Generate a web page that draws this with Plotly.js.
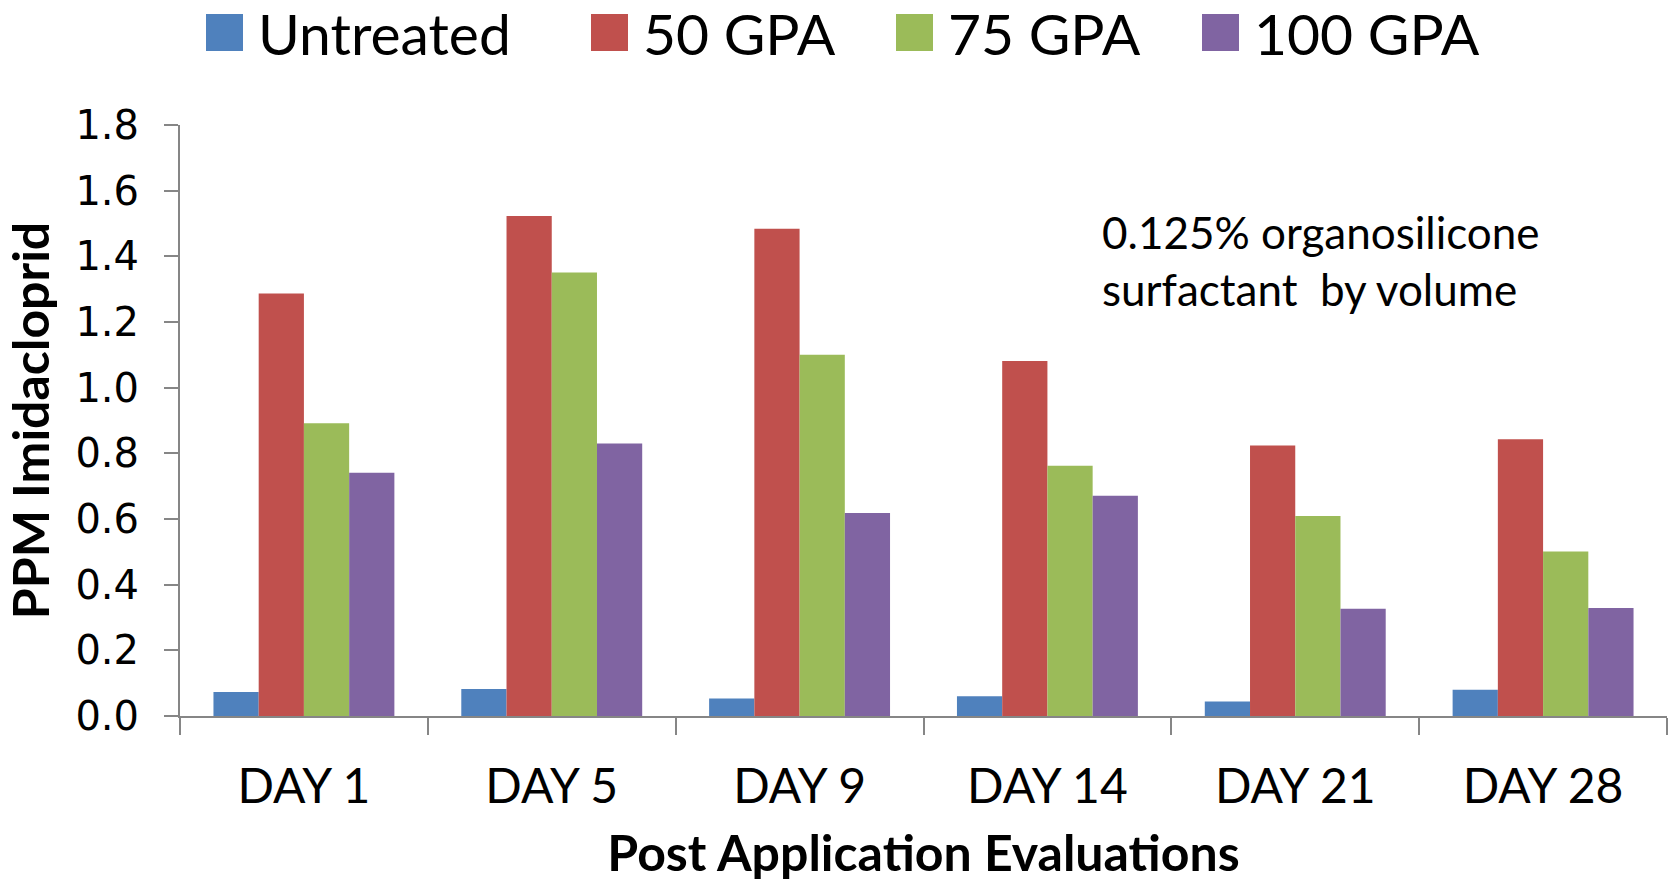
<!DOCTYPE html>
<html>
<head>
<meta charset="utf-8">
<script src="https://cdn.plot.ly/plotly-3.0.1.min.js"></script>
<style>
  html, body { margin: 0; padding: 0; background: #ffffff; }
  #chart { width: 1675px; height: 882px; }
</style>
</head>
<body>
<div id="chart"></div>
<script>
// Evaluation days after application
const days = ['DAY 1', 'DAY 5', 'DAY 9', 'DAY 14', 'DAY 21', 'DAY 28'];

// Imidacloprid residue (ppm) per treatment
const untreated = [0.073, 0.082, 0.053, 0.060, 0.044, 0.080];
const gpa50     = [1.287, 1.523, 1.484, 1.081, 0.824, 0.843];
const gpa75     = [0.892, 1.351, 1.100, 0.762, 0.609, 0.501];
const gpa100    = [0.741, 0.830, 0.618, 0.671, 0.327, 0.329];

const seriesNames  = ['Untreated', '50 GPA', '75 GPA', '100 GPA'];
const seriesValues = [untreated, gpa50, gpa75, gpa100];
const seriesColors = ['#4F81BD', '#C0504D', '#9BBB59', '#8064A2'];

const noteText = '0.125% organosilicone<br>surfactant\u00a0 by volume';

// page geometry (pixels)
const W = 1675, H = 882;
const M = { l: 180, r: 8, t: 125, b: 166 };
const plotW = W - M.l - M.r, plotH = H - M.t - M.b;
const px = x => (x - M.l) / plotW;
const py = y => (H - M.b - y) / plotH;

const axisGray = '#868686';
const textFont = 'Lato, Calibri, "Liberation Sans", sans-serif';

const traces = seriesNames.map((name, i) => ({
  type: 'bar',
  name: name,
  x: days,
  y: seriesValues[i],
  marker: { color: seriesColors[i], line: { width: 0 } },
  showlegend: false,
  hoverinfo: 'x+y+name'
}));

// hand-built legend row across the top
const legendLeft = [206, 591, 896, 1202];
const swatch = 37, swatchTop = 14;
const shapes = [];
const annotations = [];
seriesNames.forEach((name, i) => {
  const x0 = legendLeft[i];
  shapes.push({
    type: 'rect', xref: 'paper', yref: 'paper',
    x0: px(x0), x1: px(x0 + swatch),
    y0: py(swatchTop + swatch), y1: py(swatchTop),
    fillcolor: seriesColors[i], line: { width: 0 }
  });
  annotations.push({
    xref: 'paper', yref: 'paper',
    x: px(x0 + swatch + 13), y: py(0),
    xanchor: 'left', yanchor: 'top',
    height: 62, valign: 'middle',
    text: name, showarrow: false,
    font: { family: textFont, size: 57, color: '#000000' }
  });
});

annotations.push({
  xref: 'paper', yref: 'paper',
  x: px(1100), y: py(260),
  xanchor: 'left', yanchor: 'middle', align: 'left',
  text: noteText, showarrow: false,
  font: { family: textFont, size: 44, color: '#000000' }
});

const layout = {
  width: W, height: H,
  margin: M,
  paper_bgcolor: '#ffffff',
  plot_bgcolor: '#ffffff',
  barmode: 'group',
  bargap: 0.27,
  bargroupgap: 0,
  showlegend: false,
  xaxis: {
    type: 'category',
    tickson: 'boundaries',
    ticks: 'outside', ticklen: 17, tickwidth: 2, tickcolor: axisGray,
    showline: true, linecolor: axisGray, linewidth: 2,
    showgrid: false, zeroline: false,
    tickfont: { family: textFont, size: 48, color: '#000000' },
    ticklabelstandoff: 27,
    title: {
      text: '<b>Post Application Evaluations</b>',
      font: { family: textFont, size: 50, color: '#000000' },
      standoff: 33
    }
  },
  yaxis: {
    range: [0, 1.8],
    dtick: 0.2, tick0: 0,
    tickformat: '.1f',
    ticks: 'outside', ticklen: 14, tickwidth: 2, tickcolor: axisGray,
    showline: true, linecolor: axisGray, linewidth: 2,
    showgrid: false, zeroline: false,
    tickfont: { family: '"DejaVu Sans", Verdana, sans-serif', size: 40, color: '#000000' },
    ticklabelstandoff: 17,
    title: {
      text: '<b>PPM Imidacloprid</b>',
      font: { family: textFont, size: 50, color: '#000000' },
      standoff: 10
    }
  },
  shapes: shapes,
  annotations: annotations
};

Plotly.newPlot('chart', traces, layout, { displayModeBar: false, staticPlot: true });
</script>
</body>
</html>
